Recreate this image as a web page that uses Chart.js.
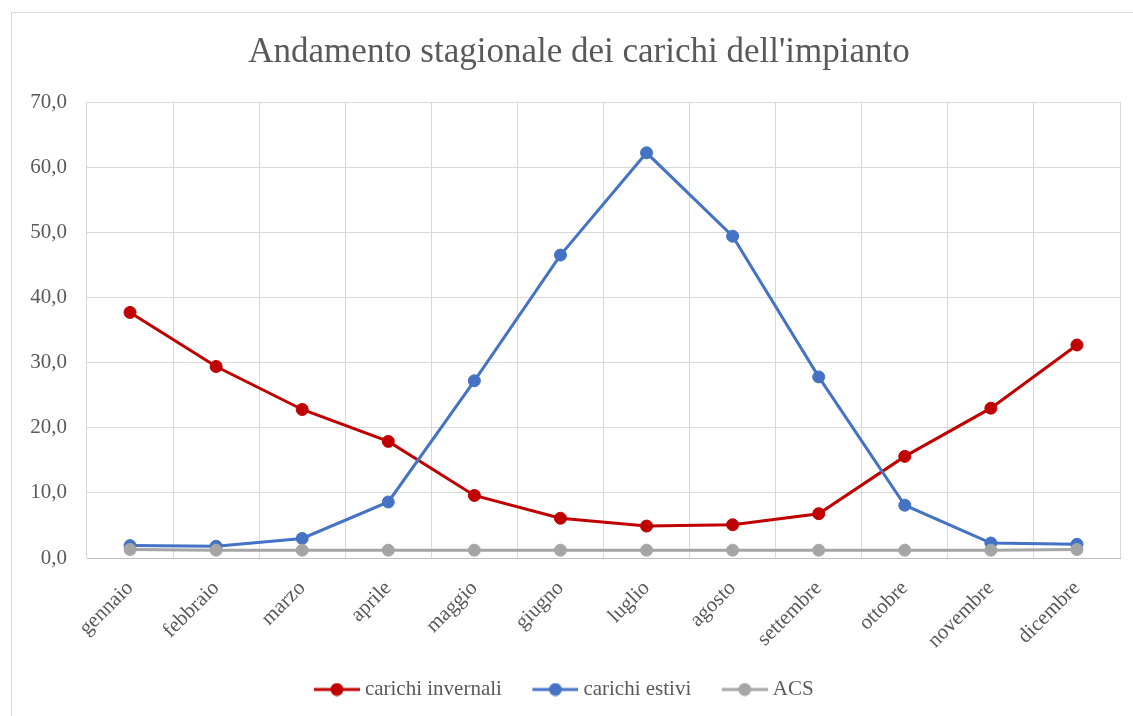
<!DOCTYPE html>
<html lang="it">
<head>
<meta charset="utf-8">
<title>Andamento stagionale dei carichi</title>
<script src="https://cdn.jsdelivr.net/npm/chart.js@4/dist/chart.umd.min.js"></script>
<style>
  html, body { margin: 0; padding: 0; background: #fff; overflow: hidden; }
  #frame { position: absolute; left: 11px; top: 12px; width: 1140px; height: 720px; border: 1px solid #d9d9d9; }
  #wrap { position: absolute; left: 0; top: 0; width: 1133px; height: 716px; }
</style>
</head>
<body>
<div id="frame"></div>
<div id="wrap"><canvas id="loadChart" width="1133" height="716"></canvas></div>
<script>
// monthly loads
const mesi = ["gennaio", "febbraio", "marzo", "aprile", "maggio", "giugno",
  "luglio", "agosto", "settembre", "ottobre", "novembre", "dicembre"];
const invernali = [37.7, 29.4, 22.8, 17.9, 9.6, 6.1, 4.9, 5.1, 6.8, 15.6, 23.0, 32.7];
const estivi = [1.9, 1.8, 3.0, 8.6, 27.2, 46.5, 62.2, 49.4, 27.8, 8.1, 2.3, 2.1];
const acs = [1.3, 1.2, 1.2, 1.2, 1.2, 1.2, 1.2, 1.2, 1.2, 1.2, 1.2, 1.3];
const yTicks = [0, 10, 20, 30, 40, 50, 60, 70];

const FONT = "'Liberation Serif', 'Times New Roman', serif";
const GREY_TEXT = "#595959";

// line+dot marker for the legend, drawn at the right of a wider canvas
// so the gap before the next entry is larger than the gap to its text
function legendMarker(color) {
  const c = document.createElement("canvas");
  c.width = 55; c.height = 14;
  const g = c.getContext("2d");
  g.strokeStyle = color;
  g.lineWidth = 3;
  g.beginPath(); g.moveTo(9, 7); g.lineTo(55, 7); g.stroke();
  g.fillStyle = color;
  g.beginPath(); g.arc(32, 7, 6.5, 0, Math.PI * 2); g.fill();
  return c;
}

function serie(label, data, color, order) {
  return {
    label: label,
    data: data,
    borderColor: color,
    backgroundColor: color,
    borderWidth: 3,
    pointRadius: 6,
    pointBorderWidth: 1,
    pointHoverRadius: 6,
    pointStyle: "circle",
    tension: 0,
    order: order,
    marker: legendMarker(color)
  };
}

// title and legend are centred on the whole frame, not just on the canvas
const frameCentre = {
  id: "frameCentre",
  afterLayout(chart) {
    if (chart.titleBlock) {
      chart.titleBlock.left = 38;
      chart.titleBlock.right = 1120;
    }
    if (chart.legend) {
      chart.legend.left = 4;
      chart.legend.right = 1120;
    }
  }
};

new Chart(document.getElementById("loadChart"), {
  type: "line",
  data: {
    labels: mesi,
    datasets: [
      serie("carichi invernali", invernali, "#C00000", 3),
      serie("carichi estivi", estivi, "#4472C4", 2),
      serie("ACS", acs, "#A5A5A5", 1)
    ]
  },
  plugins: [frameCentre],
  options: {
    responsive: false,
    animation: false,
    events: [],
    layout: { padding: { left: 0, right: 13, top: 0, bottom: 6 } },
    plugins: {
      title: {
        display: true,
        text: "Andamento stagionale dei carichi dell'impianto",
        color: GREY_TEXT,
        font: { family: FONT, size: 35, weight: "normal" },
        padding: { top: 32, bottom: 28 }
      },
      legend: {
        position: "bottom",
        labels: {
          usePointStyle: true,
          pointStyleWidth: 44,
          padding: 27,
          color: GREY_TEXT,
          font: { family: FONT, size: 21 },
          generateLabels: chart => chart.data.datasets.map((ds, i) => ({
            text: ds.label,
            pointStyle: ds.marker,
            fillStyle: ds.borderColor,
            strokeStyle: ds.borderColor,
            lineWidth: 0,
            fontColor: GREY_TEXT,
            hidden: false,
            datasetIndex: i
          }))
        }
      },
      tooltip: { enabled: false }
    },
    scales: {
      x: {
        offset: true,
        grid: { offset: true, color: "#d9d9d9", drawTicks: false },
        border: { color: "#bfbfbf", width: 1 },
        ticks: {
          color: GREY_TEXT,
          font: { family: FONT, size: 21 },
          minRotation: 45,
          maxRotation: 45,
          padding: 18,
          autoSkip: false
        },
        afterFit: s => { s.height = 94; }
      },
      y: {
        min: 0,
        max: 70,
        afterBuildTicks: s => { s.ticks = yTicks.map(v => ({ value: v })); },
        grid: { color: "#d9d9d9", drawTicks: false },
        border: { display: false },
        ticks: {
          color: GREY_TEXT,
          font: { family: FONT, size: 21 },
          padding: 20,
          callback: v => v.toFixed(1).replace(".", ",")
        },
        afterFit: s => { s.width = 87; }
      }
    }
  }
});
</script>
</body>
</html>
